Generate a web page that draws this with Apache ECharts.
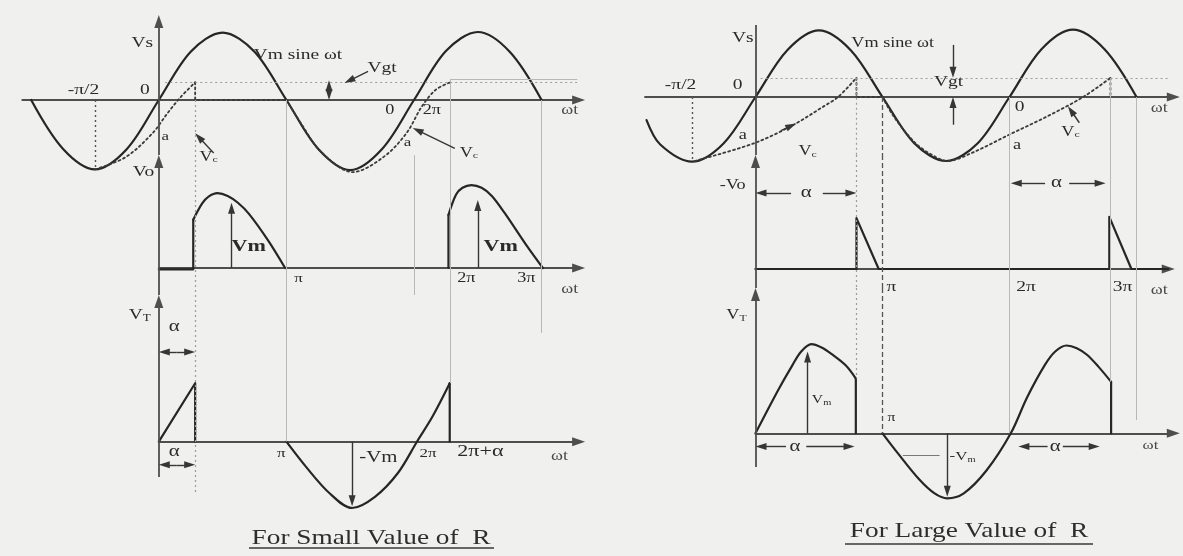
<!DOCTYPE html>
<html>
<head>
<meta charset="utf-8">
<script src="https://cdn.jsdelivr.net/npm/echarts@6/dist/echarts.min.js"></script>
<style>
  html, body { margin: 0; padding: 0; background: #f0f0ee; }
  #chart { width: 1183px; height: 556px; }
</style>
</head>
<body>
<div id="chart"></div>
<script>
// ωt is measured in multiples of π, voltages in multiples of Vm.

// ---------- small R ----------
const SR_SUPPLY = [[-1, 0], [-0.75, -0.72], [-0.5, -1.02], [-0.25, -0.72], [0, 0], [0.25, 0.71], [0.5, 0.99], [0.75, 0.71], [1, 0], [1.25, -0.72], [1.5, -1.03], [1.75, -0.72], [2, 0], [2.25, 0.72], [2.5, 1.0], [2.75, 0.71], [3, 0]];
const SR_CAP_CHARGE = [[-0.5, -1.02], [-0.26, -0.84], [-0.05, -0.49], [0.07, -0.19], [0.17, 0.04], [0.285, 0.26]];
const SR_CAP_HOLD = [[0.285, 0.26], [0.285, 0], [1, 0]];
const SR_CAP_FOLLOW = [[1, 0], [1.12, -0.36], [1.27, -0.76], [1.52, -1.06], [1.76, -0.84], [1.94, -0.49], [2.06, -0.1], [2.17, 0.15], [2.285, 0.26]];
const SR_LOAD_OFF = [[0, -0.02], [0.27, -0.02], [0.27, 0.71]];
const SR_LOAD_1 = [[0.27, 0.71], [0.34, 0.95], [0.39, 1.05], [0.46, 1.1], [0.54, 1.06], [0.62, 0.96], [0.705, 0.8], [0.855, 0.41], [0.99, 0]];
const SR_LOAD_GATE2 = [[2.27, 0], [2.27, 0.78]];
const SR_LOAD_2 = [[2.27, 0.78], [2.33, 1.08], [2.38, 1.18], [2.45, 1.22], [2.53, 1.18], [2.61, 1.06], [2.71, 0.81], [2.89, 0.31], [3.01, 0]];
const SR_SCR_RAMP = [[0, 0], [0.285, 0.86], [0.285, 0]];
const SR_SCR_BLOCK = [[1, 0], [1.154, -0.37], [1.334, -0.75], [1.514, -0.975], [1.694, -0.81], [1.874, -0.46], [2.023, 0], [2.145, 0.37], [2.28, 0.86]];
const SR_SCR_FIRE = [[2.28, 0.86], [2.28, 0]];

// ---------- large R ----------
const LR_SUPPLY = [[-0.858, -0.35], [-0.75, -0.72], [-0.5, -0.98], [-0.25, -0.7], [0, 0], [0.25, 0.71], [0.5, 1.01], [0.75, 0.71], [1, 0], [1.25, -0.7], [1.5, -0.97], [1.75, -0.7], [2, 0], [2.25, 0.72], [2.5, 1.02], [2.75, 0.72], [3, 0]];
const LR_CAP_CHARGE = [[-0.48, -0.97], [-0.01, -0.70], [0.30, -0.42], [0.53, -0.15], [0.65, 0], [0.795, 0.29]];
const LR_CAP_HOLD = [[0.795, 0.29], [0.795, 0], [1, 0]];
const LR_CAP_FOLLOW = [[1, 0], [1.09, -0.30], [1.26, -0.70], [1.41, -0.90], [1.51, -0.97], [1.70, -0.85], [2.02, -0.55], [2.29, -0.30], [2.58, 0], [2.795, 0.29]];
const LR_CAP_RESET = [[2.795, 0.29], [2.795, 0]];
const LR_LOAD = [[0, 0], [0.795, 0], [0.795, 0.77], [0.97, 0], [2.786, 0], [2.786, 0.79], [2.96, 0], [3.25, 0]];
const LR_SCR_ON1 = [[0, 0], [0.18, 0.66], [0.29, 1.03], [0.36, 1.24], [0.44, 1.35], [0.52, 1.30], [0.60, 1.20], [0.71, 1.03], [0.79, 0.83]];
const LR_SCR_CUT1 = [[0.79, 0.83], [0.79, 0]];
const LR_SCR_MAIN = [[1, 0], [1.12, -0.30], [1.29, -0.70], [1.41, -0.91], [1.51, -0.985], [1.64, -0.91], [1.82, -0.56], [2.01, 0], [2.14, 0.55], [2.28, 1.04], [2.36, 1.24], [2.45, 1.33], [2.53, 1.29], [2.61, 1.19], [2.70, 1.01], [2.80, 0.78]];
const LR_SCR_CUT2 = [[2.80, 0.78], [2.80, 0]];

// ---------- layout ----------
// horizontal scale of each panel: pixel of ωt = 0 and pixels per π
const PANEL_X = [{ x0: 158.8, unit: 127.6 }, { x0: 755.5, unit: 127 }];
// one plot per waveform; base = pixel row of the zero line, amp = pixels per Vm,
// span = [bottom, top] of the drawn vertical axis
const PLOTS = [
  { panel: 0, base: 100,   amp: 68, xr: [-1.07, 3.29], yr: [-1.3, 1.3], span: [-0.809, 1.25],  arrow: true },
  { panel: 0, base: 268,   amp: 68, xr: [0, 3.29],     yr: [-0.6, 1.8], span: [-0.397, 1.66],  arrow: true },
  { panel: 0, base: 441.7, amp: 68, xr: [0, 3.29],     yr: [-1.2, 2.4], span: [-0.519, 2.157], arrow: true },
  { panel: 1, base: 97,    amp: 66, xr: [-0.87, 3.29], yr: [-1.3, 1.3], span: [-0.879, 1.09],  arrow: false },
  { panel: 1, base: 269,   amp: 66, xr: [0, 3.25],     yr: [-0.5, 1.9], span: [-0.288, 1.727], arrow: true },
  { panel: 1, base: 433.3, amp: 66, xr: [0, 3.29],     yr: [-1.2, 2.4], span: [-0.51, 2.2],    arrow: true }
];

const FONT = "'Liberation Serif', 'DejaVu Serif', serif";
const TEXT_STRETCH = 1.3;
const SMOOTHING = 0.33;
const INK = '#2a2a2a';
const STROKE = {
  wave:    { color: '#262626', width: 2.2, type: 'solid' },
  cap:     { color: '#3a3a3a', width: 1.8, type: [2, 3] },
  axis:    { color: '#4e4e4e', width: 1.8, type: 'solid' },
  faint:   { color: '#b8b8b6', width: 1, type: 'solid' },
  dot:     { color: '#9c9c9a', width: 1.2, type: [2, 3] },
  dotDark: { color: '#555555', width: 1.4, type: [2, 3] },
  dash:    { color: '#555555', width: 1.3, type: [5, 3] },
  pointer: { color: '#363636', width: 1.4, type: 'solid' },
  thin:    { color: '#7a7a7a', width: 1, type: 'solid' }
};

// [plot, data, stroke, smooth]
const CURVES = [
  [0, SR_SUPPLY, 'wave', true],
  [0, SR_CAP_CHARGE, 'cap', true], [0, SR_CAP_HOLD, 'cap', false], [0, SR_CAP_FOLLOW, 'cap', true],
  [1, SR_LOAD_OFF, 'wave', false], [1, SR_LOAD_1, 'wave', true], [1, SR_LOAD_GATE2, 'wave', false], [1, SR_LOAD_2, 'wave', true],
  [2, SR_SCR_RAMP, 'wave', false], [2, SR_SCR_BLOCK, 'wave', true], [2, SR_SCR_FIRE, 'wave', false],
  [3, LR_SUPPLY, 'wave', true],
  [3, LR_CAP_CHARGE, 'cap', true], [3, LR_CAP_HOLD, 'cap', false], [3, LR_CAP_FOLLOW, 'cap', true], [3, LR_CAP_RESET, 'cap', false],
  [4, LR_LOAD, 'wave', false],
  [5, LR_SCR_ON1, 'wave', true], [5, LR_SCR_CUT1, 'wave', false], [5, LR_SCR_MAIN, 'wave', true], [5, LR_SCR_CUT2, 'wave', false]
];

// vertical guides: [plot, ωt, from, to, stroke]; 'T' / 'B' = top / bottom of the plot's axis
const GUIDES = [
  [0, -0.5, 0, -1.02, 'dotDark'],
  [0, 0.285, 0, 'B', 'dot'], [1, 0.285, 'T', 'B', 'dot'], [2, 0.285, 'T', -0.75, 'dot'],
  [0, 1, 0, 'B', 'faint'], [1, 1, 'T', 'B', 'faint'], [2, 1, 'T', 0, 'faint'],
  [1, 2, 'T', 'B', 'faint'],
  [0, 2.285, 0.31, 'B', 'faint'], [1, 2.285, 'T', 'B', 'faint'], [2, 2.285, 'T', 0.86, 'faint'],
  [0, 3, 0, 'B', 'faint'], [1, 3, 'T', 'B', 'faint'], [2, 3, 'T', 1.6, 'faint'],
  [3, -0.5, 0, -0.98, 'dotDark'],
  [3, 0.795, 0.29, 'B', 'dot'], [4, 0.795, 'T', 'B', 'dot'], [5, 0.795, 'T', 0.83, 'dot'],
  [3, 1, 0, 'B', 'dash'], [4, 1, 'T', 'B', 'dash'], [5, 1, 'T', 0, 'dash'],
  [3, 2, 0, 'B', 'faint'], [4, 2, 'T', 'B', 'faint'], [5, 2, 'T', 0, 'faint'],
  [3, 2.795, 0.29, 'B', 'faint'], [4, 2.795, 'T', 'B', 'faint'], [5, 2.795, 'T', 0.78, 'faint'],
  [3, 3, 0, 'B', 'faint'], [4, 3, 'T', 'B', 'faint'], [5, 3, 'T', 0.2, 'faint']
];

// free segments: gate-trigger levels and a leader stroke
const SEGMENTS = [
  [0, [0.05, 0.26], [3.28, 0.26], 'dot'],
  [0, [2.285, 0.31], [3.28, 0.31], 'faint'],
  [3, [0.04, 0.29], [3.25, 0.29], 'dot'],
  [5, [1.16, -0.33], [1.45, -0.33], 'thin']
];

// arrows: [plot, tail, tip]
const POINTERS = [
  [0, [1.334, 0.13], [1.334, 0.29]], [0, [1.334, 0.13], [1.334, 0]],
  [0, [1.64, 0.42], [1.455, 0.25]],
  [0, [0.43, -0.78], [0.285, -0.49]],
  [0, [2.32, -0.71], [1.99, -0.41]],
  [1, [0.57, 0], [0.57, 0.96]], [1, [2.5, 0], [2.5, 1.0]],
  [2, [0.14, 1.32], [0, 1.32]], [2, [0.14, 1.32], [0.285, 1.32]],
  [2, [0.14, -0.34], [0, -0.34]], [2, [0.14, -0.34], [0.285, -0.34]],
  [2, [1.515, 0], [1.515, -0.95]],
  [3, [1.555, 0.79], [1.555, 0.29]], [3, [1.555, -0.42], [1.555, 0]],
  [3, [0.2, -0.51], [0.32, -0.40]],
  [3, [2.55, -0.39], [2.46, -0.14]],
  [4, [0.28, 1.15], [0, 1.15]], [4, [0.53, 1.15], [0.795, 1.15]],
  [4, [2.28, 1.30], [2.01, 1.30]], [4, [2.47, 1.30], [2.757, 1.30]],
  [5, [0.41, 0], [0.41, 1.24]], [5, [1.51, 0], [1.51, -0.96]],
  [5, [0.24, -0.2], [0, -0.2]], [5, [0.40, -0.2], [0.78, -0.2]],
  [5, [2.30, -0.2], [2.07, -0.2]], [5, [2.42, -0.2], [2.71, -0.2]]
];

// text notes: [plot, ωt, value, text, size, flag]; "_" starts a subscript
const NOTES = [
  [0, -0.13, 0.84, 'Vs', 15], [0, 1.09, 0.66, 'Vm sine ωt', 15],
  [0, -0.59, 0.15, '-π/2', 15], [0, -0.11, 0.15, '0', 15],
  [0, 1.75, 0.47, 'Vgt', 15], [0, 1.81, -0.15, '0', 14], [0, 2.14, -0.15, '2π', 14],
  [0, 0.05, -0.54, 'a', 13], [0, 1.95, -0.63, 'a', 13],
  [0, 0.39, -0.84, 'V_c', 14], [0, 2.43, -0.78, 'V_c', 14],
  [0, 3.22, -0.15, 'ωt', 14, 'g'],
  [1, -0.12, 1.41, 'Vo', 15], [1, 0.705, 0.31, 'Vm', 17, 'b'], [1, 2.68, 0.31, 'Vm', 17, 'b'],
  [1, 1.095, -0.15, 'π', 13], [1, 2.41, -0.15, '2π', 14], [1, 2.88, -0.15, '3π', 14],
  [1, 3.22, -0.32, 'ωt', 14, 'g'],
  [2, -0.15, 1.86, 'V_T', 15], [2, 0.12, 1.69, 'α', 16], [2, 0.12, -0.15, 'α', 16],
  [2, 0.96, -0.17, 'π', 13], [2, 1.72, -0.24, '-Vm', 16], [2, 2.11, -0.17, '2π', 13],
  [2, 2.52, -0.15, '2π+α', 17], [2, 3.14, -0.22, 'ωt', 14, 'g'],
  [3, -0.10, 0.89, 'Vs', 15], [3, 1.08, 0.82, 'Vm sine ωt', 14],
  [3, -0.59, 0.18, '-π/2', 15], [3, -0.14, 0.18, '0', 15],
  [3, 1.52, 0.23, 'Vgt', 15], [3, 2.08, -0.15, '0', 15],
  [3, -0.10, -0.58, 'a', 14], [3, 2.06, -0.73, 'a', 14],
  [3, 0.41, -0.83, 'V_c', 14], [3, 2.48, -0.53, 'V_c', 14],
  [3, 3.18, -0.17, 'ωt', 14, 'g'],
  [4, -0.18, 1.27, '-Vo', 14], [4, 0.40, 1.15, 'α', 16], [4, 2.37, 1.30, 'α', 16],
  [4, 1.07, -0.27, 'π', 15], [4, 2.13, -0.27, '2π', 15], [4, 2.89, -0.27, '3π', 15],
  [4, 3.18, -0.32, 'ωt', 14, 'g'],
  [5, -0.15, 1.79, 'V_T', 14], [5, 0.52, 0.50, 'V_m', 12], [5, 1.07, 0.23, 'π', 12],
  [5, 1.63, -0.36, '-V_m', 13], [5, 0.31, -0.2, 'α', 16], [5, 2.36, -0.2, 'α', 16],
  [5, 3.11, -0.18, 'ωt', 13, 'g']
];

const CAPTIONS = [
  { text: 'For Small Value of  R', cx: 371, cy: 538, rule: [249, 494, 548] },
  { text: 'For Large Value of  R', cx: 969, cy: 531, rule: [845, 1093, 544] }
];

// ---------- build ----------
const HEAD = [7, 11];
const AXIS_HEAD = [9, 13];

function lineStyleOf(name) {
  const s = STROKE[name];
  return { color: s.color, width: s.width, type: s.type };
}

function segment(a, b, name) {
  const ls = lineStyleOf(name);
  return [{ coord: a, symbol: 'none', lineStyle: ls }, { coord: b, symbol: 'none', lineStyle: ls }];
}

// arrow whose head point lands on `tip`
function pointer(i, tail, tip, name, head) {
  const P = PLOTS[i], U = PANEL_X[P.panel].unit;
  const dx = (tip[0] - tail[0]) * U, dy = (tip[1] - tail[1]) * P.amp;
  const k = (head[1] / 2) / Math.hypot(dx, dy);
  const end = [tip[0] - (tip[0] - tail[0]) * k, tip[1] - (tip[1] - tail[1]) * k];
  const ls = lineStyleOf(name);
  return [
    { coord: tail, symbol: 'none', lineStyle: ls },
    { coord: end, symbol: 'triangle', symbolSize: head, lineStyle: ls, itemStyle: { color: ls.color } }
  ];
}

const grids = [], xAxes = [], yAxes = [], series = [];

PLOTS.forEach(function (P, i) {
  const X = PANEL_X[P.panel];
  grids.push({
    left: X.x0 + P.xr[0] * X.unit,
    top: P.base - P.yr[1] * P.amp,
    width: (P.xr[1] - P.xr[0]) * X.unit,
    height: (P.yr[1] - P.yr[0]) * P.amp
  });
  xAxes.push({
    type: 'value', gridIndex: i, min: P.xr[0], max: P.xr[1],
    axisLine: { show: true, onZero: true, symbol: ['none', 'triangle'], symbolSize: AXIS_HEAD, lineStyle: lineStyleOf('axis') },
    axisTick: { show: false }, axisLabel: { show: false }, splitLine: { show: false }
  });
  yAxes.push({
    type: 'value', gridIndex: i, min: P.yr[0], max: P.yr[1],
    axisLine: { show: false }, axisTick: { show: false }, axisLabel: { show: false }, splitLine: { show: false }
  });

  // vertical axis line and guides
  const frame = [];
  if (P.arrow) frame.push(pointer(i, [0, P.span[0]], [0, P.span[1]], 'axis', AXIS_HEAD));
  else frame.push(segment([0, P.span[0]], [0, P.span[1]], 'axis'));
  GUIDES.filter(g => g[0] === i).forEach(function (g) {
    const end = v => v === 'T' ? P.span[1] : v === 'B' ? P.span[0] : v;
    frame.push(segment([g[1], end(g[2])], [g[1], end(g[3])], g[4]));
  });
  SEGMENTS.filter(s => s[0] === i).forEach(s => frame.push(segment(s[1], s[2], s[3])));

  series.push({
    type: 'line', xAxisIndex: i, yAxisIndex: i, data: [], z: 1, silent: true,
    markLine: { silent: true, animation: false, label: { show: false }, data: frame }
  });

  series.push({
    type: 'line', xAxisIndex: i, yAxisIndex: i, data: [], z: 6, silent: true,
    markLine: {
      silent: true, animation: false, label: { show: false },
      data: POINTERS.filter(p => p[0] === i).map(p => pointer(i, p[1], p[2], 'pointer', HEAD))
    }
  });
});

CURVES.forEach(function (c) {
  const s = STROKE[c[2]];
  series.push({
    type: 'line', xAxisIndex: c[0], yAxisIndex: c[0], data: c[1],
    smooth: c[3] ? SMOOTHING : false, showSymbol: false, symbol: 'none', clip: false, silent: true, z: 3,
    lineStyle: { color: s.color, width: s.width, type: s.type, cap: 'round', join: 'round' }
  });
});

const chart = echarts.init(document.getElementById('chart'), null, { renderer: 'canvas' });
chart.setOption({
  backgroundColor: '#f0f0ee',
  animation: false,
  grid: grids,
  xAxis: xAxes,
  yAxis: yAxes,
  series: series
});

// text is placed through each plot's own scales
function noteStyle(text, size, flag) {
  const color = flag === 'g' ? '#4a4a4a' : INK;
  const weight = flag === 'b' ? 'bold' : 'normal';
  const base = { fontSize: size, fontFamily: FONT, fontWeight: weight, fill: color, align: 'center', verticalAlign: 'middle' };
  if (text.indexOf('_') < 0) return Object.assign({ text: text }, base);
  const parts = text.split('_');
  return Object.assign({}, base, {
    text: '{m|' + parts[0] + '}{s|' + parts[1] + '}',
    rich: {
      m: { fontSize: size, fontFamily: FONT, fill: color },
      s: { fontSize: Math.round(size * 0.65), fontFamily: FONT, fill: color, padding: [Math.round(size * 0.45), 0, 0, 0] }
    }
  });
}

const graphics = [];
NOTES.forEach(function (n) {
  const pt = chart.convertToPixel({ gridIndex: n[0] }, [n[1], n[2]]);
  graphics.push({ type: 'text', x: pt[0], y: pt[1], scaleX: TEXT_STRETCH, silent: true, z: 10, style: noteStyle(n[3], n[4], n[5]) });
});
CAPTIONS.forEach(function (c) {
  graphics.push({
    type: 'text', x: c.cx, y: c.cy, scaleX: TEXT_STRETCH, silent: true, z: 10,
    style: { text: c.text, fontSize: 21, fontFamily: FONT, fill: '#2d2d2d', align: 'center', verticalAlign: 'middle' }
  });
  graphics.push({
    type: 'line', silent: true, z: 10,
    shape: { x1: c.rule[0], y1: c.rule[2], x2: c.rule[1], y2: c.rule[2] },
    style: { stroke: '#3a3a3a', lineWidth: 1.4 }
  });
});
chart.setOption({ graphic: graphics });
</script>
</body>
</html>
